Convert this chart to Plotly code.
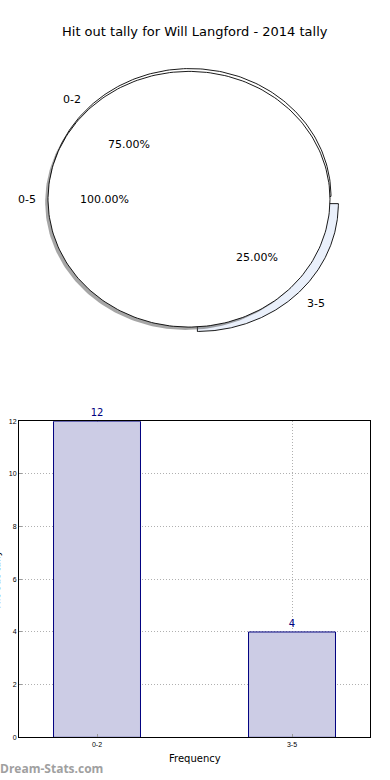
import numpy as np
import plotly.graph_objects as go

# ---- data ----
title_text = "Hit out tally for Will Langford - 2014 tally"
outer_labels = ["0-5"]
outer_values = [16]
inner_labels = ["0-2", "3-5"]
inner_values = [12, 4]
inner_explode = [0.0, 0.07]
inner_colors = ["#ffffff", "#eaf0fb"]
bar_categories = ["0-2", "3-5"]
bar_values = [12, 4]
y_ticks = [0, 2, 4, 6, 8, 10, 12]
x_title = "Frequency"
y_title = "Hit out tally"
watermark = "Dream-Stats.com"

W, H = 390, 780


def px_x(p):
    return p / W


def px_y(p):
    return 1 - p / H


fig = go.Figure()

# pie axes: unit radius mapped to an ellipse (rx=141px, ry=129px)
cx_px, cy_px, rx_px, ry_px = 189, 197, 141, 129
pie_h = 390
x2_range = [-cx_px / rx_px, (W - cx_px) / rx_px]
y2_range = [-(pie_h - cy_px) / ry_px, cy_px / ry_px]


def wedge(t0, t1, ox=0.0, oy=0.0, full=False):
    th = np.radians(np.linspace(t0, t1, 240))
    xs = list(ox + np.cos(th))
    ys = list(oy + np.sin(th))
    if not full:
        xs = [ox] + xs + [ox]
        ys = [oy] + ys + [oy]
    return xs, ys


ann = []


def pie_texts(label, value, total, t0, t1, ox, oy):
    mid = np.radians((t0 + t1) / 2)
    lx, ly = ox + 1.1 * np.cos(mid), oy + 1.1 * np.sin(mid)
    px, py = ox + 0.6 * np.cos(mid), oy + 0.6 * np.sin(mid)
    right = lx > 0
    ann.append(dict(x=lx, y=ly, xref="x2", yref="y2", text=label, showarrow=False,
                    xanchor="left" if right else "right", yanchor="middle",
                    xshift=-2 if right else 4,
                    font=dict(size=11, color="#000")))
    ann.append(dict(x=px, y=py, xref="x2", yref="y2",
                    text="%.2f%%" % (100.0 * value / total), showarrow=False,
                    xanchor="center", yanchor="middle", font=dict(size=11, color="#000")))


# inner pie (drawn first, underneath)
tot_in = sum(inner_values)
start = 0.0
for i, (lab, v) in enumerate(zip(inner_labels, inner_values)):
    end = start + 360.0 * v / tot_in
    mid = np.radians((start + end) / 2)
    ox = inner_explode[i] * np.cos(mid)
    oy = inner_explode[i] * np.sin(mid)
    if i == 0:
        ox, oy = ox + 0.007, oy + 0.022
    else:
        ox, oy = ox + 0.01, oy + 0.015
    xs, ys = wedge(start, end, ox, oy)
    fig.add_trace(go.Scatter(x=xs, y=ys, xaxis="x2", yaxis="y2", mode="lines",
                             fill="toself", fillcolor=inner_colors[i],
                             line=dict(color="#000", width=0.9), hoverinfo="skip",
                             showlegend=False))
    pie_texts(lab, v, tot_in, start, end, ox if i else 0, oy if i else 0)
    start = end

# outer pie with shadow (drawn on top)
tot_out = sum(outer_values)
start = 0.0
for lab, v in zip(outer_labels, outer_values):
    end = start + 360.0 * v / tot_out
    xs, ys = wedge(start, end, -0.02, -0.022, full=True)
    fig.add_trace(go.Scatter(x=xs, y=ys, xaxis="x2", yaxis="y2", mode="lines",
                             fill="toself", fillcolor="rgba(77,77,77,0.5)",
                             line=dict(width=0), hoverinfo="skip", showlegend=False))
    xs, ys = wedge(start, end, full=True)
    fig.add_trace(go.Scatter(x=xs, y=ys, xaxis="x2", yaxis="y2", mode="lines",
                             fill="toself", fillcolor="#ffffff",
                             line=dict(color="#000", width=0.9), hoverinfo="skip",
                             showlegend=False))
    pie_texts(lab, v, tot_out, start, end, 0, 0)
    start = end

# bar chart
fig.add_trace(go.Bar(x=list(range(len(bar_categories))), y=bar_values, width=0.446,
                     marker=dict(color="#ccccE5", line=dict(color="#000080", width=1)),
                     text=[str(v) for v in bar_values], textposition="outside",
                     textfont=dict(size=10, color="#000080"), cliponaxis=False,
                     hoverinfo="skip", showlegend=False))

ax_l, ax_r, ax_t, ax_b = 19, 370, 421, 740
grid = dict(showgrid=True, gridcolor="#b0b0b0", griddash="1px,2px", gridwidth=1,
            showline=True, linecolor="#000", linewidth=1, mirror=True,
            ticks="inside", ticklen=3, tickcolor="#999", zeroline=False,
            fixedrange=True, tickfont=dict(size=7, family="Liberation Sans"))
fig.update_layout(
    width=W, height=H, margin=dict(l=0, r=0, t=0, b=0),
    paper_bgcolor="#fff", plot_bgcolor="#fff",
    font=dict(family="DejaVu Sans", color="#000"),
    xaxis=dict(domain=[px_x(ax_l), px_x(ax_r)], range=[-0.4, 1.4],
               tickmode="array", tickvals=list(range(len(bar_categories))),
               ticktext=bar_categories, **grid),
    yaxis=dict(domain=[px_y(ax_b), px_y(ax_t)], range=[0, 12],
               tickmode="array", tickvals=y_ticks, **grid),
    xaxis2=dict(domain=[0, 1], range=x2_range, visible=False, fixedrange=True),
    yaxis2=dict(domain=[1 - pie_h / H, 1], range=y2_range, visible=False, fixedrange=True),
)

ann.append(dict(x=px_x(195), y=px_y(28), xref="paper", yref="paper", text=title_text,
                showarrow=False, xanchor="center", yanchor="middle",
                font=dict(size=13, color="#000")))
ann.append(dict(x=px_x((ax_l + ax_r) / 2), y=px_y(761), xref="paper", yref="paper",
                text=x_title, showarrow=False, xanchor="center", yanchor="middle",
                font=dict(size=10, color="#000")))
ann.append(dict(x=px_x(-3), y=px_y(581), xref="paper", yref="paper", text=y_title,
                textangle=-90, showarrow=False, xanchor="center", yanchor="middle",
                font=dict(size=10, color="#000")))
ann.append(dict(x=px_x(0), y=px_y(771), xref="paper", yref="paper", text="<b>" + watermark + "</b>",
                showarrow=False, xanchor="left", yanchor="middle", xshift=-2,
                font=dict(size=12, color="#a0a0a0", family="Open Sans")))
fig.update_layout(annotations=ann)

fig.write_html("out.html", config={"displayModeBar": False},
               post_script="document.body.style.margin='0';document.body.style.overflow='hidden';")
